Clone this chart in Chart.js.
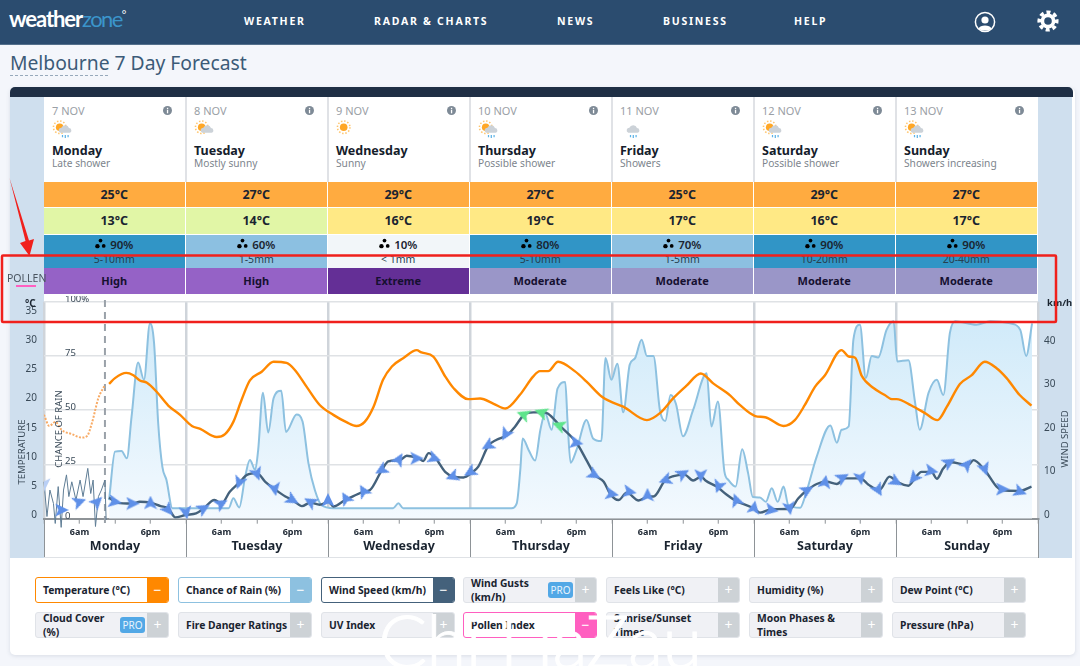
<!DOCTYPE html>
<html>
<head>
<meta charset="utf-8">
<title>Melbourne 7 Day Forecast</title>
<script src="https://cdn.jsdelivr.net/npm/chart.js@4"></script>
<style>
  html, body { margin: 0; width: 1080px; height: 666px; overflow: hidden; background: #f4f6fb; font-family: "Noto Sans", sans-serif; color: #1a2430; }
  div, span { position: absolute; white-space: nowrap; }
  #nav { left: 0; top: 0; width: 1080px; height: 44px; background: #2b4c6f; border-bottom: 1px solid #54708c; }
  .navItem { top: 14px; color: #fff; font-weight: 700; font-size: 10.5px; letter-spacing: 1.75px; }
  #logo { left: 9px; top: 5px; font: 700 22px Lato, sans-serif; letter-spacing: -1.1px; color: #fff; }
  #logo b { color: #3b95cb; font-weight: 400; letter-spacing: -1.6px; }
  #title { left: 10px; top: 49px; font-size: 19.3px; color: #3c5b78; }
  #titleDots { left: 10px; top: 75px; width: 98px; border-top: 1px dashed #97a9bb; }
  #card { left: 10px; top: 88px; width: 1065px; height: 567px; background: #fff; border-radius: 5px; box-shadow: 0 1px 4px rgba(60,80,110,.15); }
  #cardTop { left: 10px; top: 87px; width: 1063px; height: 10px; background: #1f2f45; border-radius: 5px 5px 0 0; }
  .band { top: 97px; width: 34px; height: 461px; background: #cfdfee; }
  .divider { top: 97px; width: 2px; height: 85px; background: #e0e2e6; }
  .cell { text-align: center; font-weight: 700; }
  .dateTxt { font-size: 11px; color: #9aa0a6; }
  .dayTxt { font-size: 12.5px; font-weight: 700; color: #15202b; }
  .descTxt { font-size: 10.2px; color: #7d858d; }
  .axisTitle { font-size: 9.5px; color: #3a4a58; transform: translate(-50%,-50%) rotate(-90deg); }
  .btn { height: 24px; width: 132px; background: #f0f1f5; border: 1px solid #e0e3e8; border-radius: 3px; }
  .btnTxt { left: 7px; font-size: 10.3px; font-weight: 700; color: #1a2430; line-height: 14px; }
  .btnBox { right: 0; top: 0; width: 21px; height: 24px; background: #cdd2d6; color: #fff; text-align: center; font-size: 14px; line-height: 24px; border-radius: 0 2px 2px 0; }
  .pro { top: 4px; right: 23px; width: 25px; height: 16px; background: #52a8e6; color: #e8f4fd; border-radius: 3px; text-align: center; font-size: 10px; line-height: 16px; }
  #chartWrap { left: 0; top: 296px; width: 1080px; height: 262px; }
  #watermark { left: 378px; top: 596px; font: 300 73px Lato, sans-serif; letter-spacing: -1px; color: #fff; -webkit-text-stroke: .8px #fff; }
</style>
</head>
<body>
<div id="nav"></div>
<div id="logo">weather<b>zone</b><sup style="font-size:11px;font-weight:400">°</sup></div>
<div class="navItem" style="left:244px">WEATHER</div>
<div class="navItem" style="left:374px">RADAR &amp; CHARTS</div>
<div class="navItem" style="left:557px">NEWS</div>
<div class="navItem" style="left:663px">BUSINESS</div>
<div class="navItem" style="left:794px">HELP</div>
<svg style="position:absolute;left:974px;top:11px" width="22" height="22" viewBox="0 0 22 22" fill="none">
  <circle cx="11" cy="11" r="9.6" stroke="#fff" stroke-width="1.5"/>
  <circle cx="11" cy="9" r="3.6" fill="#fff"/><path d="M4.5 17.5c1.5-4 11.5-4 13 0l-3 2h-7z" fill="#fff"/>
</svg>
<svg style="position:absolute;left:1037px;top:10px" width="22" height="22" viewBox="0 0 22 22" fill="none">
  <circle cx="11" cy="11" r="5.6" stroke="#fff" stroke-width="3.6"/>
  <circle cx="11" cy="11" r="8.8" stroke="#fff" stroke-width="3.6" stroke-dasharray="3.9 3" transform="rotate(-11 11 11)"/>
</svg>
<div id="title">Melbourne 7 Day Forecast</div>
<div id="titleDots"></div>
<div id="card"></div>
<div id="cardTop"></div>
<div class="band" style="left:10px"></div>
<div class="band" style="left:1038px"></div>
<div id="table"></div>
<div id="chartWrap"><canvas id="chart" width="1080" height="262"></canvas></div>
<div class="axisTitle" style="left:21px;top:452px">TEMPERATURE</div>
<div class="axisTitle" style="left:58px;top:429px">CHANCE OF RAIN</div>
<div class="axisTitle" style="left:1064px;top:439px">WIND SPEED</div>
<div style="left:25px;top:296px;font-size:10px;font-weight:700">°C</div>
<div style="left:1047px;top:296px;font-size:9.5px;font-weight:700">km/h</div>
<div style="left:7px;top:271px;font-size:10.5px;color:#4a5560">POLLEN</div>
<div style="left:16px;top:285px;width:20px;height:2px;background:#ff5fc0"></div>
<div id="buttons"></div>
<div id="watermark">Chi HaZau</div>
<svg style="position:absolute;left:0;top:0;pointer-events:none" width="1080" height="666" fill="none">
  <rect x="2" y="255.5" width="1054" height="66.5" stroke="#f0201c" stroke-width="2.5" rx="1"/>
  <path d="M9.5 178 L25.5 241 L20 243 L29.5 256 L34 239 L29 240.5 Z" fill="#f0201c"/>
</svg>

<script>
const days = ['Monday', 'Tuesday', 'Wednesday', 'Thursday', 'Friday', 'Saturday', 'Sunday'];
const dates = ['7 NOV', '8 NOV', '9 NOV', '10 NOV', '11 NOV', '12 NOV', '13 NOV'];
const descriptions = ['Late shower', 'Mostly sunny', 'Sunny', 'Possible shower', 'Showers', 'Possible shower', 'Showers increasing'];
const icons = ['sunCloudRain', 'sunCloud', 'sun', 'sunRain', 'cloudRain', 'sunCloudRain', 'sunCloudRain'];
const maxTemps = [25, 27, 29, 27, 25, 29, 27];
const minTemps = [13, 14, 16, 19, 17, 16, 17];
const rainChances = [90, 60, 10, 80, 70, 90, 90];
const rainAmounts = ['5-10mm', '1-5mm', '< 1mm', '5-10mm', '1-5mm', '10-20mm', '20-40mm'];
const pollenLevels = ['High', 'High', 'Extreme', 'Moderate', 'Moderate', 'Moderate', 'Moderate'];

const tempPastHours = [0, 0.9, 1.9, 3, 4.7, 6.4, 7.3, 8.1, 9.2, 10.3];
const tempPastValues = [17.8, 15.9, 16.6, 15.2, 14.5, 13.9, 14.2, 16.4, 20.7, 22.9];
const tempHours = [11, 12, 13.9, 15.1, 16.2, 17.4, 19, 21, 23, 25, 26.4, 29.2, 30.6, 32, 33.4, 34.8, 36.8, 38.8, 41, 42.4, 44.4, 46.6,
  48.9, 51.2, 52.8, 54.2, 55.7, 57.3, 58.8, 60.7, 63, 63.8, 65.8, 67.8, 69.2, 71.7, 73.7, 76, 78, 80.4, 82.7, 83.8, 85.2, 86.9, 89.7, 91.7, 94.3, 95.7,
  97.9, 101.9, 104.1, 106.4, 108.6, 111, 113.1, 116, 117.6, 120.2, 121.9, 125, 126.9, 128.6, 130.3, 132, 134.8, 136, 137.1, 138.2, 140.2, 142.1, 143.3, 144.1,
  146.6, 148.9, 151, 152.6, 154.8, 156.8, 159, 161, 162.7, 164.9, 166.9];
const tempValues = [23.1, 24.1, 25, 24.6, 23.7, 23.3, 21.8, 19.4, 17.8, 15.9, 15.4, 14, 14.5, 16.6, 20.4, 23.7, 25.2, 26.9, 26.7, 25.5, 22.6, 19.5,
  17.8, 16.5, 15.9, 16.6, 19.2, 23.8, 26.1, 27.5, 28.9, 28.5, 27.8, 24.4, 22.4, 20.5, 20.6, 19.7, 18.9, 21.2, 24.4, 25.3, 25.3, 26.9, 25.3, 23.5, 20.9, 20.1,
  19.2, 16.9, 18.1, 20.7, 22.8, 24.9, 23.2, 21.1, 19.5, 17.6, 17.4, 15.9, 16.9, 19.5, 22.6, 24.6, 28.9, 27.8, 27.6, 24.5, 22.4, 21.2, 20.5, 20.5,
  19.4, 18.1, 16.9, 19.2, 23.1, 24.6, 26.9, 25.8, 24.1, 21.2, 19.4];

const rainHours = [11, 12, 13.1, 14, 14.8, 15.9, 16.9, 17.9, 18.6, 19.3, 20, 20.7, 21.7, 31.2, 32, 33, 34, 34.8, 35.7, 36.2, 37, 37.9, 38.8, 40.1, 40.9, 42.7, 43.7, 44.7, 45.8, 46.9, 48.9,
  59, 59.9, 60.7, 79, 79.9, 80.5, 80.9, 81.9, 83, 83.9, 84.7, 85.8, 86.8, 88.1, 88.5, 89, 90, 91.7, 92.8, 94.2, 94.9, 95.9, 96.9,
  97.9, 99, 99.9, 101, 101.9, 103, 104.1, 105, 105.9, 106.8, 108, 109.7, 112, 112.8, 113.9, 115, 115.7, 116.9, 118, 119, 119.8, 121, 122, 123, 124, 125, 125.8, 127.8, 128.6, 130.6, 132.9, 134, 134.8, 136, 136.8, 137.9, 138.9, 139.9, 141, 142.4, 143.6, 144.2, 146.1, 147.2, 148, 149.5, 150.9, 152, 153.1, 154, 157.6, 159.9, 163.3, 165, 166, 167];
const rainValues = [8.6, 30.9, 31.2, 27.8, 47, 72, 64, 90, 81, 44, 24, 17.8, 4.8, 4.8, 9.4, 5.2, 19.4, 27, 22.5, 31.7, 58, 39.7, 55.5, 59, 40, 48, 44.8, 25.5, 13, 6.3, 4.8,
  4.8, 7.1, 4.8, 4.8, 7.1, 22.5, 37, 31.7, 26.8, 41, 48.6, 41, 60, 63, 44, 25.8, 31.7, 45.5, 37, 35.8, 74, 64, 71.4,
  49, 71, 74, 82.5, 75, 75, 50, 45, 57, 53, 38, 50, 67, 42.5, 54, 21.7, 17.8, 14.8, 32, 21, 10, 9.8, 7.8, 14, 7.8, 14.8, 6.3, 5, 10, 28.6, 43, 35, 41, 42.5, 82.5, 89.4, 64.8, 75, 74.3, 87, 91, 72.5, 73, 54, 41, 58, 64, 57, 85.5, 91, 89.4, 91, 90, 87, 75, 90];

const windPastHours = [0, 0.5, 1, 1.6, 1.9, 2.4, 2.9, 3.3, 3.8, 4.2, 4.7, 5.4, 6.1, 6.6, 7.4, 7.9, 8.3, 8.7, 9.2, 9.7, 10.3, 10.5];
const windPastValues = [8.5, 0.5, 6.6, 3.5, -1.1, 7.4, -2, 6.6, 10.1, 5.1, 8.5, 4.3, 8.9, 5.1, 11.6, 5.8, 8.9, -1.8, 5.1, 6.6, 8.9, -0.3];
const windHours = [11, 12, 14, 15, 16.2, 18, 19.7, 21, 22.2, 24, 25.7, 27, 28.8, 30, 31.4, 33, 34.3, 36, 37.4, 39, 40.8, 42, 43.6, 45, 46.6,
  48.1, 48.9, 50.9, 52.3, 54, 55.1, 57.1, 58.2, 60.2, 61.3, 63.3, 64.1, 65, 66.2, 67.8, 69.2, 70.9, 72.3, 73.4, 75.1, 76.5, 78.3, 79.6, 81.1, 82.7, 84.3, 85.2, 87.2, 90, 91.8, 93.1, 94.6, 95.7,
  97.1, 98.5, 100.5, 102.1, 103, 105, 106.4, 108.3, 109.7, 111.1, 111.8, 113.7, 115.4, 116.8, 119.9, 121, 123, 126.1, 127.5, 129, 130.6, 132.3, 134, 135.4, 138, 139.3, 141.2, 142.9, 144.2, 146.1, 147.2, 148.3, 150, 150.9, 152, 153.2, 156.2, 157.1, 159, 161, 161.9, 164.9, 166.9];
const windValues = [4.9, 3.9, 3.5, 3.5, 3.9, 3.7, 2.9, 2.4, 0.3, 0.9, 1.2, 2.4, 4.3, 3.5, 6.2, 8.3, 10.1, 10.5, 8.5, 6.8, 5.1, 4.3, 2.9, 3.7, 3.2,
  3.9, 2.8, 4.3, 5.2, 6.2, 6.6, 11.2, 13.2, 13.5, 14.5, 13.9, 13.3, 15.1, 13.9, 10.8, 9.7, 9.5, 10.6, 12, 16.8, 18.2, 19.3, 21.2, 23.9, 24.5, 24.5, 24.2, 21.4, 17.5, 13.2, 10.1, 8.5, 5.7,
  4.3, 6, 4.2, 5.1, 5.1, 8.9, 9.8, 10.1, 8.8, 9.7, 8.8, 7.4, 5.5, 4.2, 2.4, 1.4, 2.2, 2.3, 4.7, 6.6, 8, 8.5, 8, 9.3, 9.3, 7.9, 6.6, 9.7, 8.5, 7.6, 9.3, 10.8, 10.8, 9.2, 11.6, 13, 12.4, 13.5, 11.2, 7.4, 6.6, 6.4, 7.4];

const arrowHours = [0, 3, 6, 9, 12, 15, 18, 21, 24, 27, 30, 33, 36, 39, 42, 45, 48, 51, 54, 57, 60, 63, 66, 69, 72, 75, 78, 81, 84, 87, 90, 93, 96,
  99, 102, 105, 108, 111, 114, 117, 120, 123, 126, 129, 132, 135, 138, 141, 144, 147, 150, 153, 156, 159, 162, 165];
const arrowSpeeds = [7.8, 2, 3.9, 3.9, 3.9, 3.5, 3.7, 2, 1.4, 2.4, 3.5, 8.3, 10.3, 6.8, 4.3, 3.9, 4.3, 4.7, 6.4, 11.2, 13.7, 13.9, 13.9, 9.7, 10.7, 16.8, 19.4, 24, 24.5, 21.5, 17.5, 10.1, 5.7,
  6.2, 5.5, 8.9, 10.4, 9.9, 7.4, 4.3, 2.6, 2, 2.4, 6.6, 8.5, 9.5, 9.3, 6.6, 8.5, 9.3, 11, 13, 12.5, 11.4, 6.8, 6.2];
const arrowDirections = [180, 90, 70, 45, 100, 90, 0, 140, 170, 60, 60, 200, 160, 170, 120, 300, 0, 330, 330, 240, 30, 90, 110, 250, 240, 240, 210, 290, 290, 290, 100, 120, 100,
  100, 0, 250, 60, 180, 200, 340, 10, 100, 170, 60, 10, 60, 170, 150, 120, 220, 100, 60, 40, 160, 90, 110];

const hoursPerDay = 24;
const nowHour = 10.3;
const rainTicks = 25;

const pollenColors = { High: '#9562c6', Extreme: '#642f96', Moderate: '#9a96c8' };
const buttonRows = [
  [['Temperature (°C)', '#ff8800'], ['Chance of Rain (%)', '#8dc1e0'], ['Wind Speed (km/h)', '#44617b'], ['Wind Gusts<br>(km/h)', null, true], ['Feels Like (°C)'], ['Humidity (%)'], ['Dew Point (°C)']],
  [['Cloud Cover<br>(%)', null, true], ['Fire Danger Ratings'], ['UV Index'], ['Pollen Index', '#ff5fc0'], ['Sunrise/Sunset<br>Times'], ['Moon Phases &amp;<br>Times'], ['Pressure (hPa)']]
];

function iconSvg(kind) {
  const sun = '<circle cx="6.5" cy="6.5" r="3.4" fill="#ffa726"/><circle cx="6.5" cy="6.5" r="5.6" stroke="#ffc46b" stroke-width="1.4" stroke-dasharray="1.3 1.6" fill="none"/>';
  const cloud = '<path d="M7 11.5a2.4 2.4 0 0 1 1-4.6 3.6 3.6 0 0 1 6.8 .3 2.2 2.2 0 0 1 .6 4.3z" fill="#ccd2d8"/>';
  const rain = '<path d="M9 13.5v2M11.5 13.5v2.5M14 13.5v2" stroke="#5cb2e6" stroke-width="1.1"/>';
  const parts = { sun, sunCloud: sun + cloud, sunRain: sun + cloud + rain, sunCloudRain: sun + cloud + rain, cloudRain: cloud + rain };
  return '<svg width="21" height="19" viewBox="0 0 18 17">' + parts[kind] + '</svg>';
}
const dropsSvg = '<svg width="11" height="11" viewBox="0 0 10 10"><circle cx="5" cy="2.3" r="1.7"/><circle cx="2.2" cy="7.4" r="2"/><circle cx="7.9" cy="7.2" r="1.7"/></svg>';
const infoSvg = '<svg width="9" height="9" viewBox="0 0 9 9"><circle cx="4.5" cy="4.5" r="4.5" fill="#7e8a96"/><rect x="3.9" y="3.8" width="1.3" height="3.5" fill="#fff"/><rect x="3.9" y="1.8" width="1.3" height="1.3" fill="#fff"/></svg>';

// forecast table over the chart
const colLeft = 44, colWidth = 142;
let html = '';
days.forEach((day, i) => {
  const x = colLeft + i * colWidth;
  const w = colWidth - 1.5;
  const minColor = minTemps[i] < 15 ? '#e1f6a6' : '#ffe985';
  const rainColor = rainChances[i] >= 80 ? '#3195c6' : rainChances[i] >= 60 ? '#8cc0e1' : '#f2f6f9';
  html += `<div class="dateTxt" style="left:${x + 8}px;top:103px">${dates[i]}</div>`;
  html += `<div style="left:${x + 119}px;top:106px;line-height:0">${infoSvg}</div>`;
  html += `<div style="left:${x + 8}px;top:120px;line-height:0">${iconSvg(icons[i])}</div>`;
  html += `<div class="dayTxt" style="left:${x + 8}px;top:142px">${day}</div>`;
  html += `<div class="descTxt" style="left:${x + 8}px;top:156px">${descriptions[i]}</div>`;
  if (i > 0) html += `<div class="divider" style="left:${x - 1.5}px"></div>`;
  html += `<div class="cell" style="left:${x}px;top:182px;width:${w}px;height:25px;line-height:25px;font-size:12.5px;background:#ffab40">${maxTemps[i]}°C</div>`;
  html += `<div class="cell" style="left:${x}px;top:208px;width:${w}px;height:26px;line-height:26px;font-size:12.5px;background:${minColor}">${minTemps[i]}°C</div>`;
  html += `<div style="left:${x}px;top:235px;width:${w}px;height:32.5px;background:${rainColor}"></div>`;
  html += `<div class="cell" style="left:${x}px;top:237px;width:${w}px;font-size:11.5px;font-weight:600;line-height:16px"><span style="position:static;line-height:0;margin-right:4px">${dropsSvg}</span>${rainChances[i]}%</div>`;
  html += `<div class="cell" style="left:${x}px;top:252px;width:${w}px;font-size:10.5px;font-weight:400;color:#27404f;line-height:14px">${rainAmounts[i].replace('<', '&lt;')}</div>`;
  html += `<div class="cell" style="left:${x}px;top:268px;width:${w}px;height:26px;line-height:26px;font-size:11px;background:${pollenColors[pollenLevels[i]]};color:#161030">${pollenLevels[i]}</div>`;
});
// day boundary lines below the axis
for (let i = 0; i <= days.length; i++) {
  html += `<div style="left:${colLeft + i * colWidth - 0.5}px;top:519px;width:1px;height:39px;background:#8e9397"></div>`;
}
html += `<div style="left:44px;top:557px;width:994px;height:1px;background:#dfe2e6"></div>`;
document.getElementById('table').innerHTML = html;

// toggle buttons below the chart
const buttonXs = [35, 178, 321, 463, 606, 749, 892];
const buttonYs = [577, 612];
let btnHtml = '';
buttonRows.forEach((row, r) => row.forEach(([label, active, pro], c) => {
  const two = label.includes('<br>');
  const style = active ? `background:#fff;border-color:${active}` : '';
  btnHtml += `<div class="btn" style="left:${buttonXs[c]}px;top:${buttonYs[r]}px;${style}">`;
  btnHtml += `<div class="btnTxt" style="top:${two ? -2 : 5}px">${label}</div>`;
  if (pro) btnHtml += '<div class="pro">PRO</div>';
  btnHtml += `<div class="btnBox"${active ? ` style="background:${active}"` : ''}>${active ? '−' : '+'}</div></div>`;
}));
document.getElementById('buttons').innerHTML = btnHtml;

function zip(xs, ys) {
  return xs.map((x, i) => ({ x, y: ys[i] }));
}

function arrowCanvas(color) {
  const c = document.createElement('canvas');
  c.width = 14; c.height = 14;
  const g = c.getContext('2d');
  g.fillStyle = color;
  g.beginPath();
  g.moveTo(7, 0); g.lineTo(13.5, 13.5); g.lineTo(7, 10.5); g.lineTo(0.5, 13.5);
  g.closePath();
  g.fill();
  return c;
}
const blueArrow = arrowCanvas('#5f90e8');
const greenArrow = arrowCanvas('#5fe48c');
const paleArrow = arrowCanvas('#b9cff5');

function rainFill(ctx) {
  const area = ctx.chart.chartArea;
  if (!area) return '#e4f2fc';
  const g = ctx.chart.ctx.createLinearGradient(0, area.top, 0, area.bottom);
  g.addColorStop(0, '#cde9f9');
  g.addColorStop(1, '#f3f9fe');
  return g;
}

// tick padding pushes the plot area down otherwise
function fixY(width) {
  return (s) => { s.width = width; s.paddingTop = 0; s.paddingBottom = 0; };
}

new Chart(document.getElementById('chart'), {
  type: 'scatter',
  data: {
    datasets: [
      { // rain
        data: zip(rainHours, rainValues), yAxisID: 'yRain', showLine: true, order: 5,
        borderColor: '#8dc1e0', borderWidth: 2, pointRadius: 0, cubicInterpolationMode: 'monotone',
        fill: 'start', backgroundColor: rainFill
      },
      { // now marker
        data: [{ x: nowHour, y: -2 }, { x: nowHour, y: 102.8 }], yAxisID: 'yRain', showLine: true, order: 4, clip: false,
        borderColor: '#9aa1a9', borderWidth: 2, borderDash: [7, 5], pointRadius: 0
      },
      { // past temperature
        data: zip(tempPastHours, tempPastValues), yAxisID: 'yTemp', showLine: true, order: 3,
        borderColor: '#f8ab66', borderWidth: 2, borderDash: [2, 1.5], pointRadius: 0, cubicInterpolationMode: 'monotone'
      },
      { // temperature
        data: zip(tempHours, tempValues), yAxisID: 'yTemp', showLine: true, order: 1,
        borderColor: '#ff8800', borderWidth: 2.4, pointRadius: 0, cubicInterpolationMode: 'monotone'
      },
      { // past wind
        data: zip(windPastHours, windPastValues), yAxisID: 'yWind', showLine: true, order: 3, clip: false,
        borderColor: '#5f7d95', borderWidth: 1, pointRadius: 0
      },
      { // wind
        data: zip(windHours, windValues), yAxisID: 'yWind', showLine: true, order: 2,
        borderColor: '#44617b', borderWidth: 2.4, pointRadius: 0, cubicInterpolationMode: 'monotone'
      },
      { // wind direction arrows
        data: zip(arrowHours, arrowSpeeds), yAxisID: 'yWind', showLine: false, order: 0,
        pointRadius: 7,
        pointRotation: arrowDirections,
        pointStyle: (ctx) => ctx.dataIndex === 0 ? paleArrow : arrowSpeeds[ctx.dataIndex] >= 20 ? greenArrow : blueArrow
      }
    ]
  },
  options: {
    responsive: false,
    animation: false,
    layout: { autoPadding: false, padding: { top: 5.7 } },
    plugins: { legend: { display: false }, tooltip: { enabled: false } },
    scales: {
      x: {
        type: 'linear', position: 'bottom', weight: 0, min: 0, max: 168,
        afterFit: (s) => { s.height = 20; },
        afterBuildTicks: (s) => { s.ticks = Array.from({ length: 29 }, (_, i) => ({ value: i * 6 })); },
        border: { color: '#8e9397', width: 2 },
        grid: {
          color: (c) => c.tick && c.tick.value % hoursPerDay === 0 ? '#cfd4da' : 'rgba(0,0,0,0)',
          lineWidth: 2.5, tickColor: '#8e9397', tickWidth: 1, tickLength: 5
        },
        ticks: {
          autoSkip: false, maxRotation: 0, padding: 3, color: '#1a2430',
          font: { family: '"Noto Sans"', size: 9, weight: 700 },
          callback: (v) => v % hoursPerDay === 6 ? '6am' : v % hoursPerDay === 18 ? '6pm' : ''
        }
      },
      xDays: {
        type: 'linear', position: 'bottom', weight: 1, min: 0, max: 168,
        afterFit: (s) => { s.height = 19.3; },
        afterBuildTicks: (s) => { s.ticks = days.map((_, i) => ({ value: i * hoursPerDay + hoursPerDay / 2 })); },
        border: { display: false },
        grid: { display: false, drawTicks: false },
        ticks: {
          autoSkip: false, maxRotation: 0, padding: 0, color: '#1a2430',
          font: { family: '"Noto Sans"', size: 12.5, weight: 700 },
          callback: (v) => days[Math.floor(v / hoursPerDay)]
        }
      },
      yTemp: {
        position: 'left', weight: 1, min: 0, max: 37.2,
        afterFit: fixY(44),
        border: { display: false },
        grid: { display: false, drawTicks: false },
        ticks: {
          stepSize: 5, includeBounds: false, padding: 7, labelOffset: -3.5, color: '#3a4a58',
          font: { family: '"Noto Sans"', size: 10 }
        }
      },
      yRain: {
        position: 'left', weight: 0, min: 0, max: 100,
        afterFit: fixY(0),
        border: { display: false },
        grid: {
          color: (c) => c.tick && c.tick.value === 0 ? 'rgba(0,0,0,0)' : '#dfe2e5',
          lineWidth: 1.5, drawTicks: false
        },
        ticks: {
          stepSize: rainTicks, mirror: true, padding: 21, labelOffset: -2.8, color: '#3a4a58',
          font: { family: '"Noto Sans"', size: 9.5 },
          callback: (v) => v === 100 ? '100%' : v
        }
      },
      yWind: {
        position: 'right', min: 0, max: 50,
        afterFit: fixY(42),
        border: { display: false },
        grid: { display: false, drawTicks: false },
        ticks: {
          stepSize: 10, padding: 6, labelOffset: -4, color: '#3a4a58',
          font: { family: '"Noto Sans"', size: 10 },
          callback: (v) => v === 50 ? '' : v
        }
      }
    }
  }
});
</script>
</body>
</html>
